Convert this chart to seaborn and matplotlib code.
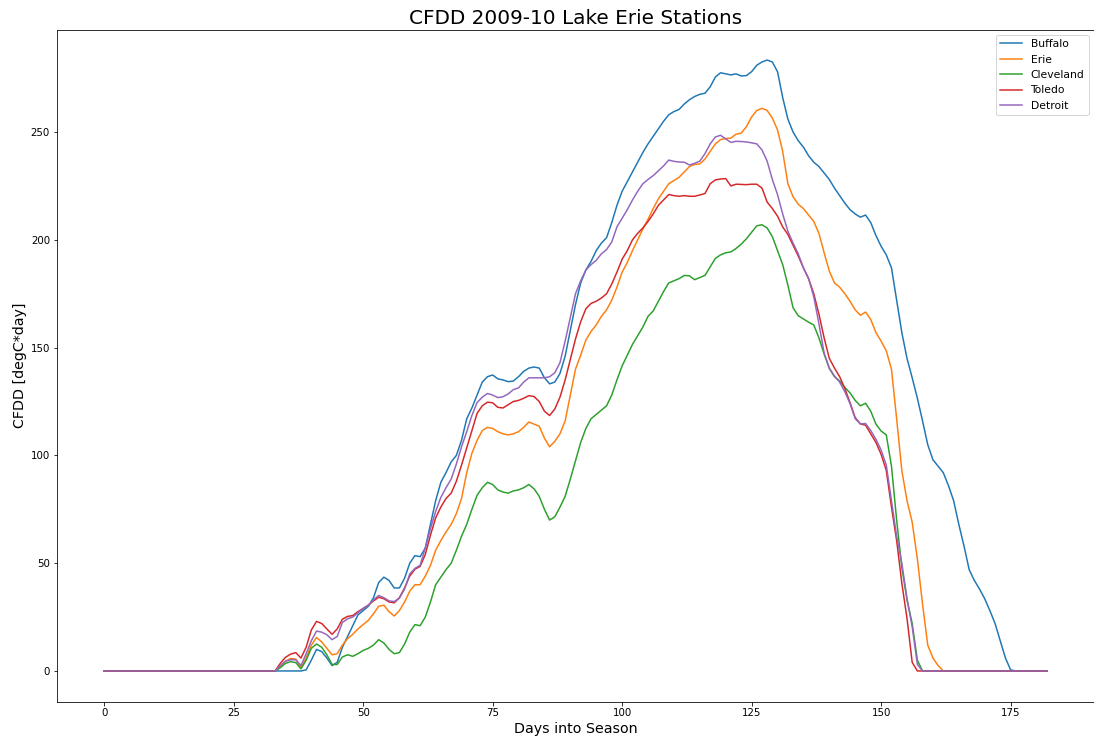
import matplotlib
matplotlib.use("Agg")
import matplotlib.pyplot as plt
import seaborn as sns
import pandas as pd

days = list(range(183))

buffalo = [
    0, 0, 0, 0, 0, 0, 0, 0, 0, 0,
    0, 0, 0, 0, 0, 0, 0, 0, 0, 0,
    0, 0, 0, 0, 0, 0, 0, 0, 0, 0,
    0, 0, 0, 0, 0, 0, 0, 0, 0,
    0.5, 5, 10, 9, 6, 2.5, 4, 11, 16, 21, 26, 28, 30, 34, 41, 43.5, 42, 38.5, 38.5, 43,
    50, 53.5, 53, 57, 68, 79, 87.5, 92, 97, 100, 107, 117, 122, 128, 134, 136.5, 137.3,
    135.5, 135, 134.2, 134.5, 136.5, 139, 140.5, 141, 140.5, 136, 133.2, 134, 138, 146,
    158, 170, 180, 186, 190, 195, 198.5, 201, 208, 216, 222.5, 227, 231.5, 236, 240.5,
    244.5, 248, 251.5, 255, 258, 259.5, 260.5, 263, 265, 266.5, 267.5, 268, 271, 275.5,
    277.5, 277, 276.5, 277, 276, 276.2, 278, 281, 282.5, 283.4, 282.5, 278, 266, 256,
    250, 246, 243, 239, 236, 234, 231, 228, 224, 220.5, 217, 214, 212, 210.5, 211.5,
    208, 202, 197, 193, 187, 172, 157, 145, 136, 126.5, 116, 105, 98, 95, 92, 86, 79,
    68, 58, 47, 42, 38, 33.5, 28, 22, 14, 6, 0.5,
    0, 0, 0, 0, 0, 0, 0,
]

erie = [
    0, 0, 0, 0, 0, 0, 0, 0, 0, 0,
    0, 0, 0, 0, 0, 0, 0, 0, 0, 0,
    0, 0, 0, 0, 0, 0, 0, 0, 0, 0,
    0, 0, 0, 0,
    2, 4.5, 5.8, 5.5, 1.5, 6, 12, 15.5, 13.5, 10.5, 7.5, 8, 12, 15, 17, 19.5, 21.5,
    23.5, 26.5, 30, 30.5, 27.5, 25.5, 28, 32, 37, 40, 40, 44, 49, 56, 60.5, 64.5, 68,
    73, 80, 92, 101, 107, 111.5, 113, 112.5, 111, 110, 109.5, 110, 111, 113, 115.5,
    114.5, 113.5, 108, 104, 106.5, 110, 116, 128, 140, 146.5, 153.5, 157.5, 160.5,
    164.5, 167.5, 172, 178, 185, 189.5, 195, 200, 205, 209.5, 214.5, 219, 222.5, 226,
    227.5, 229, 231.5, 234, 235, 235.2, 237.5, 241, 244.5, 246.5, 247, 247.2, 249,
    249.5, 252.5, 257, 260, 261, 260, 256.5, 251, 241, 226, 220, 216.5, 214.5, 211.5,
    208.5, 203, 194, 185.5, 180, 178, 175, 171.5, 167.5, 165, 166.5, 163, 157, 153,
    148.5, 140, 117, 93, 79, 69, 52, 31, 12, 6, 2.5,
    0, 0, 0, 0, 0, 0, 0, 0, 0, 0,
    0, 0, 0, 0, 0, 0, 0, 0, 0, 0,
    0,
]

cleveland = [
    0, 0, 0, 0, 0, 0, 0, 0, 0, 0,
    0, 0, 0, 0, 0, 0, 0, 0, 0, 0,
    0, 0, 0, 0, 0, 0, 0, 0, 0, 0,
    0, 0, 0, 0,
    1.5, 3.5, 4.3, 3.9, 1, 5, 10.5, 12.5, 11, 7.5, 3, 3, 6.5, 7.5, 6.8, 8, 9.5, 10.5,
    12, 14.5, 13, 10, 8, 8.5, 12.5, 18, 21.5, 21, 25, 32, 40, 43.5, 47, 50, 56, 62.5,
    68, 75, 81.5, 85, 87.5, 86.5, 84, 83, 82.5, 83.5, 84, 85, 86.5, 84.5, 81, 75, 70,
    71.5, 76, 81, 89, 97.5, 106, 112.5, 117, 119, 121, 123, 128, 135, 141.5, 146.5,
    151.5, 155.5, 159.5, 164.5, 167, 171.5, 176, 180, 181, 182, 183.5, 183.3, 181.5,
    182.5, 183.5, 187.5, 191.4, 193, 194, 194.4, 196, 198, 200.5, 203.5, 206.5, 207,
    205.5, 201.5, 195, 188.5, 179, 168.5, 164.8, 163.3, 161.8, 160.5, 154.5, 147,
    140.3, 136.5, 134.5, 131.5, 129, 125.5, 123, 124.2, 120.5, 114.5, 111.3, 109.5,
    95, 70, 48, 33, 22, 5,
    0, 0, 0, 0, 0, 0, 0, 0, 0, 0,
    0, 0, 0, 0, 0, 0, 0, 0, 0, 0,
    0, 0, 0, 0, 0,
]

toledo = [
    0, 0, 0, 0, 0, 0, 0, 0, 0, 0,
    0, 0, 0, 0, 0, 0, 0, 0, 0, 0,
    0, 0, 0, 0, 0, 0, 0, 0, 0, 0,
    0, 0, 0, 0,
    3.5, 6.3, 7.8, 8.5, 6, 11, 19, 23, 22, 19.5, 17, 19.5, 24, 25.3, 25.7, 27.5, 29,
    30.5, 32.5, 34.2, 33.5, 32, 31.6, 34, 38.5, 44, 47.2, 48.5, 54, 63, 71, 76, 80,
    82.5, 88, 95.5, 103.5, 111.5, 119.5, 123, 124.7, 124.4, 122.3, 122, 123.5, 125,
    125.5, 126.5, 127.7, 127.3, 125, 120.5, 118.5, 121.5, 127, 135, 144.5, 154, 162,
    168, 170.5, 171.5, 173, 175, 179.5, 185, 191, 195, 200, 203, 205.5, 208.5, 212,
    216, 218.5, 221, 220.5, 220.2, 220.5, 220.2, 220.2, 220.8, 221.5, 226, 227.8,
    228.2, 228.4, 225, 225.8, 225.7, 225.6, 225.8, 225.8, 224, 217.5, 214.5, 211, 206,
    202.5, 197.5, 192.5, 187, 182, 175, 165.5, 154.5, 145, 140.5, 136.5, 131, 124.5,
    117.5, 114.6, 114, 110, 106, 100.5, 93, 76, 60.5, 40.7, 24.4, 4,
    0, 0, 0, 0, 0, 0, 0, 0, 0, 0,
    0, 0, 0, 0, 0, 0, 0, 0, 0, 0,
    0, 0, 0, 0, 0, 0,
]

detroit = [
    0, 0, 0, 0, 0, 0, 0, 0, 0, 0,
    0, 0, 0, 0, 0, 0, 0, 0, 0, 0,
    0, 0, 0, 0, 0, 0, 0, 0, 0, 0,
    0, 0, 0, 0,
    2.5, 4.5, 5.2, 5.2, 2.5, 8, 14, 18.5, 18, 16.8, 14.5, 16, 22.5, 24.2, 25, 27, 29,
    30.5, 33, 35, 34, 32.5, 32.2, 33.7, 38, 45, 47.6, 49, 57, 66, 74, 80.5, 85, 89, 96,
    104, 111, 118.5, 124.5, 127, 128.7, 128, 126.8, 127.2, 128.5, 130.5, 131.3, 134,
    136, 136, 136, 136, 136.5, 138.3, 143, 153, 164, 175, 181, 186, 188.5, 190.5,
    193.5, 195.5, 199, 206, 210, 214, 218.5, 222.5, 226, 228, 229.8, 232, 234.3, 237,
    236.4, 236.1, 236, 234.7, 235.5, 236.5, 240, 244.5, 247.7, 248.5, 246.8, 245.2,
    245.7, 245.6, 245.4, 245, 244.5, 241.7, 236.5, 228, 221, 212, 204, 198.5, 193.5,
    187, 182, 173.6, 161, 147.5, 140.5, 136.8, 134, 129.5, 124, 117, 114.6, 114.8,
    111.5, 107.5, 102.5, 95.5, 79, 62.5, 50, 33.5, 20.5, 3,
    0, 0, 0, 0, 0, 0, 0, 0, 0, 0,
    0, 0, 0, 0, 0, 0, 0, 0, 0, 0,
    0, 0, 0, 0, 0,
]

stations = ["Buffalo", "Erie", "Cleveland", "Toledo", "Detroit"]
series = [buffalo, erie, cleveland, toledo, detroit]
for name, s in zip(stations, series):
    assert len(s) == len(days), (name, len(s))

colors = sns.color_palette("tab10", 5)

W, H = 1094, 741
fig = plt.figure(figsize=(W / 72, H / 72), dpi=72)
ax = fig.add_axes([57 / W, 1 - 701.5 / H, 1037 / W, 672 / H])

for name, s, c in zip(stations, series, colors):
    df = pd.DataFrame({"day": days, "cfdd": s})
    sns.lineplot(data=df, x="day", y="cfdd", ax=ax, color=c, label=name, linewidth=1.5)

ax.set_title("CFDD 2009-10 Lake Erie Stations", fontsize=20)
ax.set_xlabel("Days into Season", fontsize=14.3)
ax.set_ylabel("CFDD [degC*day]", fontsize=14.3)
ax.tick_params(labelsize=10.3)
ax.legend(loc="upper right", fontsize=10.8)

fig.savefig("out.png", dpi=72)
